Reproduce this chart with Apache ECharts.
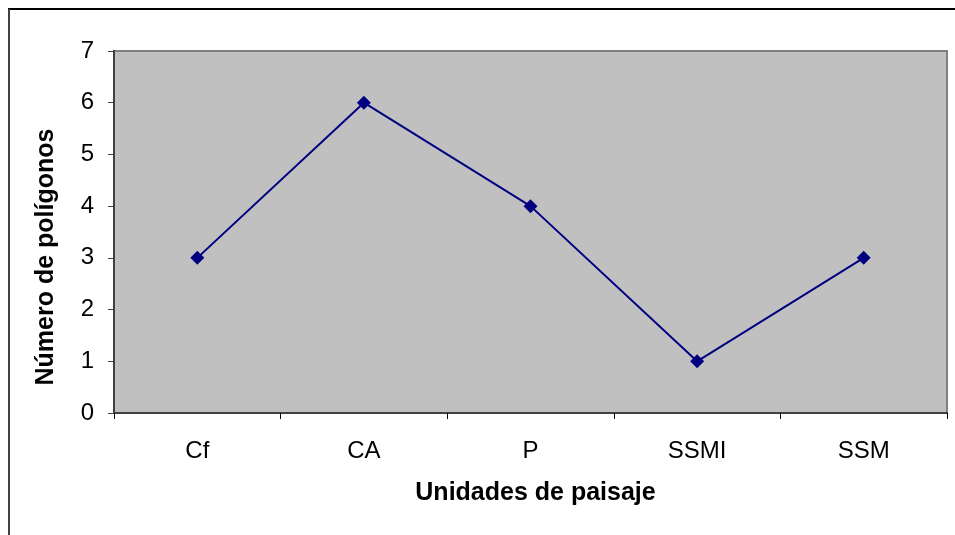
<!DOCTYPE html>
<html><head><meta charset="utf-8">
<script src="https://cdn.jsdelivr.net/npm/echarts@6/dist/echarts.min.js"></script>
<style>html,body{margin:0;padding:0;background:#fff}#c{width:955px;height:535px}</style>
</head><body><div id="c"></div>
<script>
const categories = ['Cf', 'CA', 'P', 'SSMI', 'SSM'];
const values = [3, 6, 4, 1, 3];
const yTicks = [0, 1, 2, 3, 4, 5, 6, 7];
const xTitle = 'Unidades de paisaje';
const yTitle = 'Número de polígonos';

const chart = echarts.init(document.getElementById('c'), null, {renderer: 'canvas'});
const font = 'Liberation Sans, Arial, sans-serif';
chart.setOption({
  animation: false,
  backgroundColor: '#fff',
  grid: {left: 114, top: 51, right: 8, bottom: 122, show: true, backgroundColor: '#c0c0c0', borderColor: '#808080', borderWidth: 2},
  xAxis: {
    type: 'category', data: categories, boundaryGap: true,
    name: xTitle, nameLocation: 'middle', nameGap: 68,
    nameTextStyle: {fontFamily: font, fontSize: 25, fontWeight: 'bold', color: '#000', padding: [0, 0, 0, 10]},
    axisLine: {lineStyle: {color: '#404040', width: 2}},
    axisTick: {show: true, length: 6, lineStyle: {color: '#000', width: 1}},
    axisLabel: {fontFamily: font, fontSize: 24, color: '#000', margin: 26},
    splitLine: {show: false}
  },
  yAxis: {
    type: 'value', min: yTicks[0], max: yTicks[yTicks.length - 1], interval: 1,
    name: yTitle, nameLocation: 'middle', nameGap: 55, nameRotate: 90,
    nameTextStyle: {fontFamily: font, fontSize: 25, fontWeight: 'bold', color: '#000', padding: [0, 50, 0, 0]},
    axisLine: {show: true, lineStyle: {color: '#404040', width: 2}},
    axisTick: {show: true, length: 6, lineStyle: {color: '#404040', width: 1}},
    axisLabel: {fontFamily: font, fontSize: 24, color: '#000', margin: 20},
    splitLine: {show: false}
  },
  series: [{
    type: 'line', data: values,
    symbol: 'diamond', symbolSize: 14,
    lineStyle: {color: '#000080', width: 2},
    itemStyle: {color: '#000080'}
  }],
  graphic: [
    {type: 'line', shape: {x1: 8, y1: 9, x2: 955, y2: 9}, style: {stroke: '#000', lineWidth: 2}},
    {type: 'line', shape: {x1: 9, y1: 9, x2: 9, y2: 535}, style: {stroke: '#404040', lineWidth: 2}}
  ]
});
</script></body></html>
